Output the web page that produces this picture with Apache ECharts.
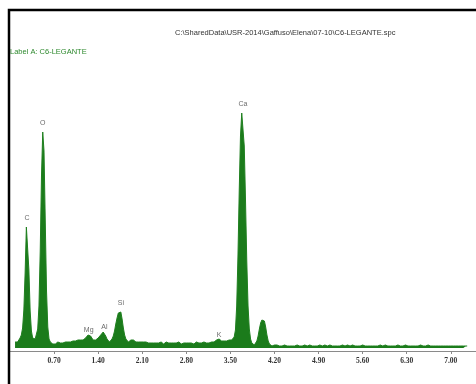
<!DOCTYPE html>
<html>
<head>
<meta charset="utf-8">
<script src="https://cdn.jsdelivr.net/npm/echarts@6/dist/echarts.min.js"></script>
<style>html,body{margin:0;padding:0;background:#fff;}#chart{width:476px;height:384px;}</style>
</head>
<body>
<div id="chart"></div>
<script>
// Spectrum: channel calibration (keV) and counts per channel
const energyStart = 0.08;
const energyStep = 0.02;
const counts = [
  6,7,6,8,10,13,20,38,75,121,123,78,37,17,10,8,9,11,19,42,
  97,172,216,197,127,57,21,9,6,5,4,5,4,5,6,5,5,6,5,6,
  6,5,6,7,6,6,7,6,7,7,8,7,8,7,8,9,10,12,13,13,
  12,10,8,7,8,9,10,11,13,15,16,15,12,9,7,6,7,9,12,17,
  24,30,35,37,36,29,20,13,9,7,6,7,8,9,8,7,6,7,6,5,
  6,5,6,5,6,5,5,6,5,6,5,4,5,6,5,5,6,5,4,5,
  6,5,5,4,5,6,5,4,5,5,6,5,4,5,5,4,5,6,5,4,
  5,5,4,5,6,5,5,4,5,5,6,5,5,6,5,6,6,5,6,7,
  8,9,9,8,7,6,7,8,7,7,8,7,8,9,11,18,42,92,157,212,
  235,233,202,147,87,42,19,9,5,3,3,4,7,12,19,25,28,29,27,21,
  13,7,4,3,2,3,3,2,3,2,2,3,2,2,3,2,2,3,2,2,
  2,3,2,2,3,2,2,3,2,2,3,2,2,2,3,2,2,3,2,3,
  2,2,3,2,2,2,3,2,2,3,3,2,2,3,2,2,2,3,2,2,
  3,2,2,2,3,2,2,2,3,2,2,2,2,3,2,2,3,2,2,2,
  2,3,2,2,2,3,2,2,2,3,3,2,2,2,3,2,2,2,2,3,
  2,2,2,2,3,2,2,2,2,2,3,2,2,2,2,3,2,2,2,2,
  2,2,3,2,2,2,2,2,3,2,2,2,2,2,2,3,2,2,2,2,
  2,2,2,3,2,2,2,2,2,2,2,2,2,2,2,2,2,2,2,2
];
// Element peak labels
const peakNames = ['C','O','Mg','Al','Si','K','Ca'];
const peakEnergies = [0.27,0.52,1.25,1.50,1.76,3.32,3.70];
const peakLabelLevels = [130,225,18,21,45,13,244];
// Axis ticks
const tickStart = 0;
const tickStep = 0.7;
const axisMax = 7.4;

const titleText = 'C:\\SharedData\\USR-2014\\Gaffuso\\Elena\\07-10\\C6-LEGANTE.spc';
const labelText = 'Label A: C6-LEGANTE';

const spectrum = counts.map((c, i) => [+(energyStart + i * energyStep).toFixed(2), c]);
const peaks = peakNames.map((n, i) => ({ name: n, value: [peakEnergies[i], peakLabelLevels[i]] }));

const chart = echarts.init(document.getElementById('chart'), null, { renderer: 'canvas' });
chart.setOption({
  animation: false,
  backgroundColor: '#fff',
  title: [
    { text: titleText, left: 170, top: 24, textStyle: { fontFamily: 'Liberation Sans', fontSize: 7.5, fontWeight: 'normal', color: '#333' } },
    { text: labelText, left: 5, top: 43, textStyle: { fontFamily: 'Liberation Sans', fontSize: 7.5, fontWeight: 'normal', color: '#2f8a2f' } }
  ],
  graphic: [
    { type: 'rect', shape: { x: 9, y: 10, width: 480, height: 400 }, style: { fill: null, stroke: '#000', lineWidth: 2.5 }, z: 100 }
  ],
  grid: { left: 10, right: 0, top: 51, bottom: 33, containLabel: false },
  xAxis: {
    type: 'value', min: tickStart, max: axisMax, interval: tickStep,
    axisLine: { onZero: false, lineStyle: { color: '#8a8a8a', width: 1 } },
    axisTick: { show: true, length: 3, lineStyle: { color: '#8a8a8a' } },
    splitLine: { show: false },
    axisLabel: {
      showMinLabel: false, showMaxLabel: false, margin: 6,
      fontFamily: 'Liberation Serif', fontWeight: 'bold', fontSize: 7.5, color: '#333',
      formatter: v => v.toFixed(2)
    }
  },
  yAxis: { type: 'value', min: -3, max: 297, show: false, splitLine: { show: false } },
  series: [
    {
      type: 'line', data: spectrum, showSymbol: false, symbol: 'none',
      lineStyle: { color: '#1f801f', width: 1 },
      areaStyle: { color: '#1b7b1b', opacity: 1, origin: 0 },
      z: 2
    },
    {
      type: 'scatter', data: peaks, symbolSize: 0,
      label: { show: true, position: 'inside', formatter: p => p.name, fontFamily: 'Liberation Sans', fontSize: 7, color: '#444' },
      z: 3
    }
  ]
});
</script>
</body>
</html>
